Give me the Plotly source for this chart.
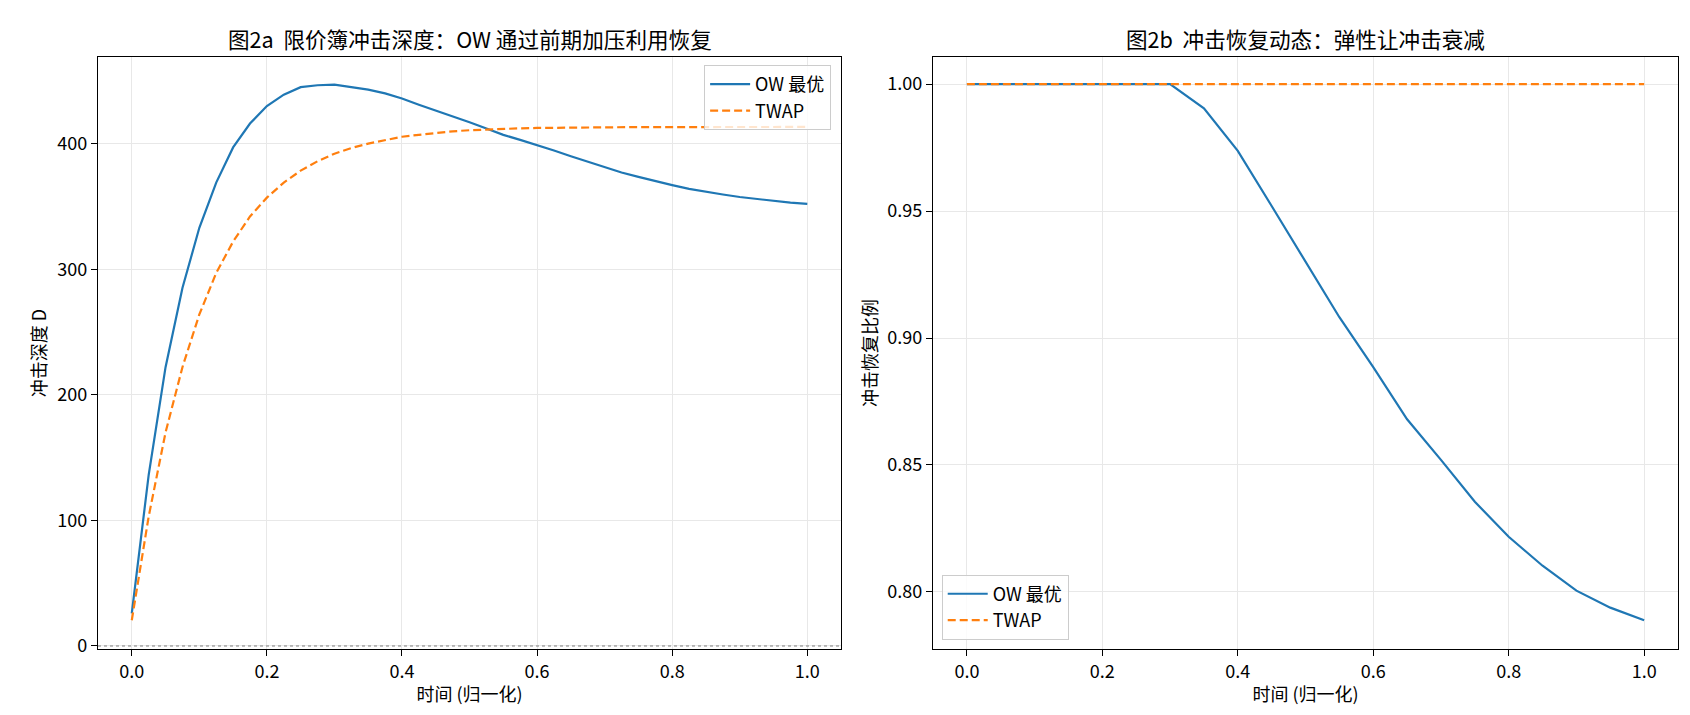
import numpy as np
import plotly.graph_objects as go

# ------ 数据 ------ #
t_depth = np.round(np.arange(0, 1.0001, 0.025), 3)
ow_depth = [26, 136, 222, 285, 333, 369, 397, 416, 430, 439,
            445, 446.5, 447, 445, 443, 440, 436, 431, 426.5, 421.5,
            417, 412, 407, 403, 399, 394.5, 390, 385.5, 381.5, 377,
            373.5, 370, 367, 364, 361.5, 359.5, 357.5, 355.8, 354.3, 353,
            352]
twap_depth = [20.5, 103, 170, 222, 264, 297, 322, 342, 357, 369,
              378.5, 386, 392, 396.5, 400, 403, 405.5, 407, 408.5, 409.8,
              410.7, 411.3, 411.8, 412.2, 412.5, 412.7, 412.9, 413, 413.1, 413.1,
              413.2, 413.2, 413.2, 413.3, 413.3, 413.3, 413.3, 413.3, 413.3, 413.3,
              413.3]

t_ratio = np.round(np.arange(0, 1.0001, 0.05), 2)
ow_ratio = [1.0, 1.0, 1.0, 1.0, 1.0, 1.0, 1.0, 0.9905, 0.9737, 0.9520,
            0.9300, 0.9082, 0.8885, 0.8680, 0.8520, 0.8355, 0.8217, 0.8103, 0.8005, 0.7938,
            0.7888]
twap_ratio = [1.0] * len(t_ratio)

x_ticks = [0.0, 0.2, 0.4, 0.6, 0.8, 1.0]

BLUE = "#1f77b4"
ORANGE = "#ff7f0e"
FONT = "Noto Sans CJK SC, Noto Sans, sans-serif"

fig = go.Figure()

# ------ 图2a ------ #
fig.add_trace(go.Scatter(x=t_depth, y=ow_depth, mode="lines", name="OW 最优",
                         line=dict(color=BLUE, width=2.2), xaxis="x", yaxis="y",
                         legend="legend"))
fig.add_trace(go.Scatter(x=t_depth, y=twap_depth, mode="lines", name="TWAP",
                         line=dict(color=ORANGE, width=2.2, dash="8px,4px"),
                         xaxis="x", yaxis="y", legend="legend"))

# ------ 图2b ------ #
fig.add_trace(go.Scatter(x=t_ratio, y=ow_ratio, mode="lines", name="OW 最优",
                         line=dict(color=BLUE, width=2.2), xaxis="x2", yaxis="y2",
                         legend="legend2"))
fig.add_trace(go.Scatter(x=t_ratio, y=twap_ratio, mode="lines", name="TWAP",
                         line=dict(color=ORANGE, width=2.2, dash="8px,4px"),
                         xaxis="x2", yaxis="y2", legend="legend2"))

# 零线
fig.add_shape(type="line", xref="x domain", yref="y", x0=0, x1=1, y0=0, y1=0,
              line=dict(color="gray", width=1, dash="dot"))

axis_common = dict(showline=True, linecolor="black", linewidth=1.2, mirror=True,
                   ticks="outside", ticklen=6, tickcolor="black", tickwidth=1.2,
                   gridcolor="#e8e8e8", gridwidth=1, zeroline=False,
                   tickfont=dict(size=18, color="black"))

fig.update_layout(
    width=1690, height=715,
    margin=dict(l=90, r=20, t=49, b=74),
    plot_bgcolor="white", paper_bgcolor="white",
    font=dict(family=FONT, size=18, color="black"),
    xaxis=dict(domain=[0, 0.4703], range=[-0.05, 1.05], tickvals=x_ticks,
               tickformat=".1f",
               title=dict(text="时间 (归一化)", standoff=6, font=dict(size=18)),
               **axis_common),
    yaxis=dict(range=[-2.4, 469], tickvals=[0, 100, 200, 300, 400],
               title=dict(text="冲击深度 D", standoff=6, font=dict(size=18)),
               anchor="x", **axis_common),
    xaxis2=dict(domain=[0.5285, 1], range=[-0.05, 1.05], tickvals=x_ticks,
                tickformat=".1f",
                title=dict(text="时间 (归一化)", standoff=6, font=dict(size=18)),
                anchor="y2", **axis_common),
    yaxis2=dict(range=[0.7775, 1.0107], tickvals=[0.80, 0.85, 0.90, 0.95, 1.00],
                tickformat=".2f",
                title=dict(text="冲击恢复比例", standoff=5, font=dict(size=18)),
                anchor="x2", **axis_common),
    legend=dict(x=0.464, y=0.9865, xanchor="right", yanchor="top",
                bgcolor="rgba(255,255,255,0.8)", bordercolor="#cccccc",
                borderwidth=1, font=dict(size=18), itemwidth=40),
    legend2=dict(x=0.534, y=0.016, xanchor="left", yanchor="bottom",
                 bgcolor="rgba(255,255,255,0.8)", bordercolor="#cccccc",
                 borderwidth=1, font=dict(size=18), itemwidth=40),
    annotations=[
        dict(text="图2a  限价簿冲击深度：OW 通过前期加压利用恢复", x=0.2352, y=1.032,
             xref="paper", yref="paper", showarrow=False, xanchor="center",
             yanchor="middle", font=dict(size=21.6)),
        dict(text="图2b  冲击恢复动态：弹性让冲击衰减", x=0.7642, y=1.032,
             xref="paper", yref="paper", showarrow=False, xanchor="center",
             yanchor="middle", font=dict(size=21.6)),
    ],
)

fig.write_html("out.html")
